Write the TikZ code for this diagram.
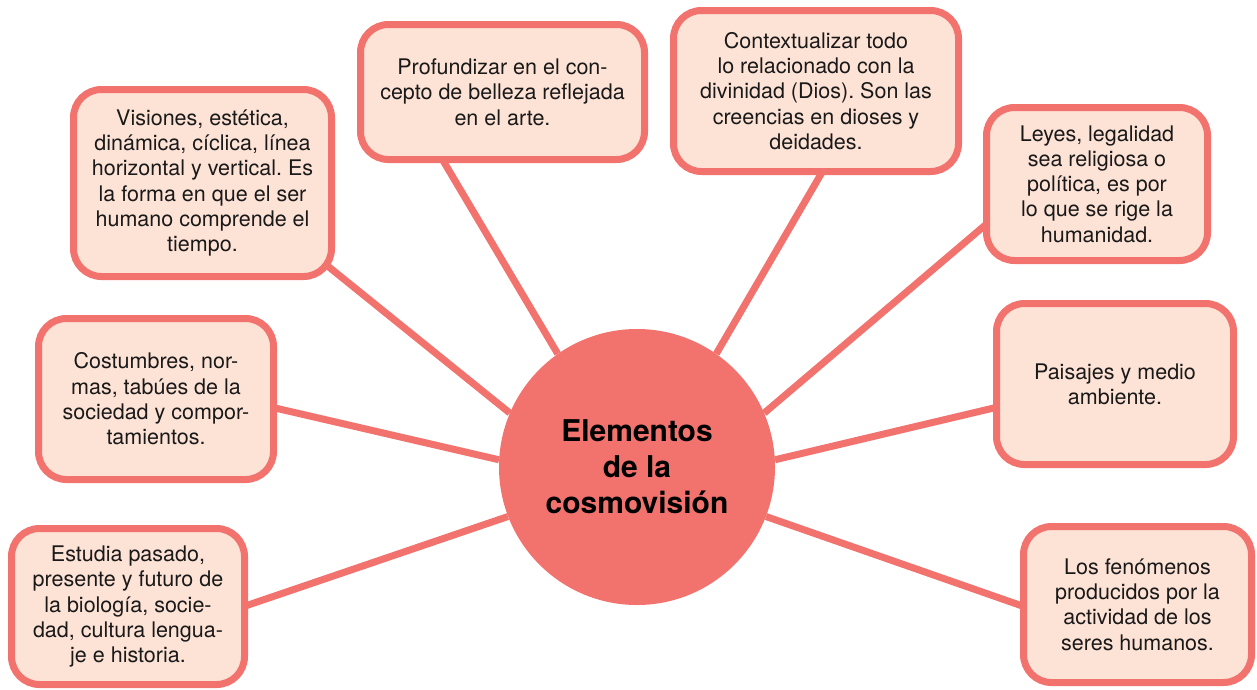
\documentclass[tikz,border=0pt]{standalone}
\usepackage{fontspec}
\setmainfont{TeX Gyre Heros}
\usetikzlibrary{calc,backgrounds}
\definecolor{rosa}{HTML}{F2726E}
\definecolor{crema}{HTML}{FDE2D6}
\frenchspacing

\tikzset{
  idea/.style={draw=rosa, fill=crema, line width=7pt, rounded corners=28pt,
    align=center, inner sep=0pt, text=black!90,
    font=\fontsize{21.5}{25.3}\selectfont},
  enlace/.style={draw=rosa, line width=7pt},
  nucleo/.style={circle, fill=rosa, minimum size=276pt, inner sep=0pt,
    align=center, font=\fontsize{30}{36}\selectfont\bfseries}
}

\begin{document}
\begin{tikzpicture}[x=1pt, y=-1pt]
  \useasboundingbox (0,0) rectangle (1257,689);

  % centro
  \node[nucleo] (c) at (637,467) {Elementos\\de la\\cosmovisión};

  % ideas
  \node[idea, minimum width=258pt, minimum height=187pt] (vis) at (202.5,183)
    {Visiones, estética,\\dinámica, cíclica, línea\\horizontal y vertical. Es\\la forma en que el ser\\humano comprende el\\tiempo.};
  \node[idea, minimum width=284pt, minimum height=135pt] (prof) at (502.5,92)
    {Profundizar en el con-\\cepto de belleza reflejada\\en el arte.};
  \node[idea, minimum width=285pt, minimum height=161pt] (cont) at (816,91)
    {Contextualizar todo\\lo relacionado con la\\divinidad (Dios). Son las\\creencias en dioses y\\deidades.};
  \node[idea, minimum width=221pt, minimum height=153pt] (ley) at (1097,184)
    {Leyes, legalidad\\sea religiosa o\\política, es por\\lo que se rige la\\humanidad.};
  \node[idea, minimum width=235pt, minimum height=161pt] (cost) at (156,399)
    {Costumbres, nor-\\mas, tabúes de la\\sociedad y compor-\\tamientos.};
  \node[idea, minimum width=237pt, minimum height=161pt] (pais) at (1115,384)
    {Paisajes y medio\\ambiente.};
  \node[idea, minimum width=233pt, minimum height=156pt] (est) at (128,606.5)
    {Estudia pasado,\\presente y futuro de\\la biología, socie-\\dad, cultura lengua-\\je e historia.};
  \node[idea, minimum width=228pt, minimum height=156pt] (fen) at (1137.5,604.5)
    {Los fenómenos\\producidos por la\\actividad de los\\seres humanos.};

  % enlaces
  \begin{scope}[on background layer]
    \draw[enlace] (c.157.8) -- ($(vis.south east)+(-31.5,-33.5)$);
    \draw[enlace] (c.125.5) -- ($(prof.south)+(-75.5,-29.5)$);
    \draw[enlace] (c.55.8) -- ($(cont.south)+(17,-21.5)$);
    \draw[enlace] (c.23.3) -- ($(ley.west)+(23.5,23)$);
    \draw[enlace] (c.177) -- ($(cost.east)+(-23.5,4)$);
    \draw[enlace] (c.3) -- ($(pais.west)+(23.5,18.6)$);
    \draw[enlace] (c.201) -- ($(est.east)+(-19.5,5.2)$);
    \draw[enlace] (c.-21.7) -- ($(fen.west)+(21,8)$);
  \end{scope}
\end{tikzpicture}
\end{document}
